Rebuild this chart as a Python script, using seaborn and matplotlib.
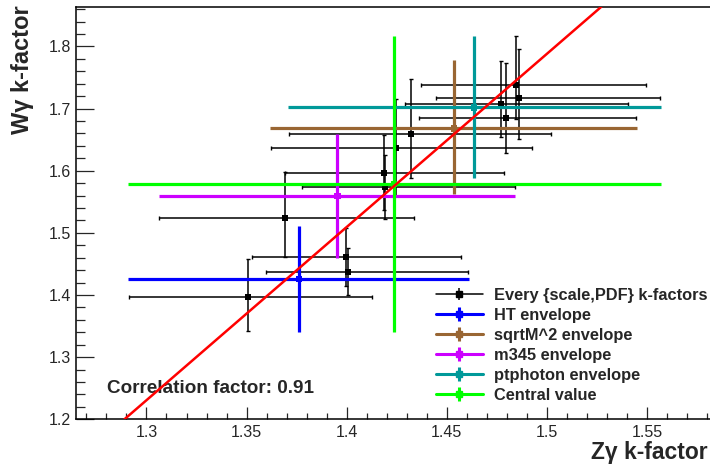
import numpy as np
import pandas as pd
import matplotlib.pyplot as plt
import seaborn as sns
from matplotlib.lines import Line2D
from matplotlib.ticker import MultipleLocator

# Every {scale,PDF} k-factor point: Z-gamma (x) vs W-gamma (y), with envelope edges
kz = [1.4847, 1.4859, 1.4770, 1.4795, 1.4323, 1.4245, 1.3693, 1.4186, 1.4191, 1.3996, 1.4006, 1.3506]
kw = [1.7373, 1.7164, 1.7068, 1.6852, 1.6590, 1.6370, 1.5244, 1.5968, 1.5738, 1.4613, 1.4376, 1.3965]
kz_lo = [1.4371, 1.4448, 1.4291, 1.4363, 1.3713, 1.3624, 1.3065, 1.3693, 1.3778, 1.3528, 1.3598, 1.2913]
kz_hi = [1.5496, 1.5565, 1.5404, 1.5446, 1.5021, 1.4924, 1.4336, 1.4784, 1.4840, 1.4570, 1.4607, 1.4126]
kw_lo = [1.6831, 1.6514, 1.6537, 1.6289, 1.5887, 1.5593, 1.4613, 1.5368, 1.5223, 1.4146, 1.4000, 1.3423]
kw_hi = [1.8166, 1.7952, 1.7768, 1.7727, 1.7479, 1.7148, 1.5974, 1.6569, 1.6252, 1.5079, 1.4757, 1.4576]

# Envelopes
env_names = ["HT envelope", "sqrtM^2 envelope", "m345 envelope", "ptphoton envelope", "Central value"]
env_colors = ["#0000ff", "#996633", "#cc00ff", "#009999", "#00ff00"]
env_z = [1.3761, 1.4537, 1.3953, 1.4637, 1.4236]
env_w = [1.4259, 1.6682, 1.5593, 1.7019, 1.5786]
env_z_lo = [1.2908, 1.3619, 1.3062, 1.3708, 1.2908]
env_z_hi = [1.4612, 1.5449, 1.4842, 1.5568, 1.5571]
env_w_lo = [1.3411, 1.5621, 1.4592, 1.5878, 1.3411]
env_w_hi = [1.5116, 1.7780, 1.6595, 1.8170, 1.8170]

# Linear fit line
fit_slope = 2.787
fit_intercept = -2.3924
corr_factor = 0.91

sns.set_theme(style="ticks")
plt.rcParams['font.family'] = ['Liberation Sans', 'DejaVu Sans']

pts = pd.DataFrame({"kz": kz, "kw": kw, "kz_lo": kz_lo, "kz_hi": kz_hi,
                    "kw_lo": kw_lo, "kw_hi": kw_hi})
env = pd.DataFrame({"name": env_names, "color": env_colors, "kz": env_z, "kw": env_w,
                    "kz_lo": env_z_lo, "kz_hi": env_z_hi, "kw_lo": env_w_lo, "kw_hi": env_w_hi})

fig = plt.figure(figsize=(7.1, 4.68), dpi=100)
ax = fig.add_axes([76 / 710, 1 - 419.3 / 468, 1 - 76 / 710 + 0.002, (419.3 - 6.7) / 468])

# black points
ax.errorbar(pts["kz"], pts["kw"],
            xerr=[pts["kz"] - pts["kz_lo"], pts["kz_hi"] - pts["kz"]],
            yerr=[pts["kw"] - pts["kw_lo"], pts["kw_hi"] - pts["kw"]],
            fmt="none", ecolor="black", elinewidth=1.1, capsize=1.2, capthick=1.0, zorder=2)
sns.scatterplot(data=pts, x="kz", y="kw", marker="s", s=18, color="black",
                edgecolor="none", ax=ax, zorder=3, legend=False)

handles = [(Line2D([], [], color="black", lw=1.1, marker="s", markersize=4.5),
            Line2D([], [], color="black", lw=0, marker="|", markersize=9, markeredgewidth=1.1))]
labels = ["Every {scale,PDF} k-factors"]

for i, row in env.iterrows():
    ax.errorbar([row["kz"]], [row["kw"]],
                xerr=[[row["kz"] - row["kz_lo"]], [row["kz_hi"] - row["kz"]]],
                yerr=[[row["kw"] - row["kw_lo"]], [row["kw_hi"] - row["kw"]]],
                fmt="none", ecolor=row["color"], elinewidth=2.3, capsize=0, zorder=4 + i)
    ax.scatter([row["kz"]], [row["kw"]], marker="s", s=22, color=row["color"],
               edgecolor="none", zorder=4 + i)
    handles.append((Line2D([], [], color=row["color"], lw=2.2, marker="s", markersize=4.5),
                    Line2D([], [], color=row["color"], lw=0, marker="|", markersize=10,
                           markeredgewidth=2.2)))
    labels.append(row["name"])

ax.axline((1.3, fit_intercept + fit_slope * 1.3), slope=fit_slope, color="red", lw=1.8, zorder=12)

ax.set_xlim(1.2648, 1.5822)
ax.set_ylim(1.2, 1.864)
ax.xaxis.set_major_locator(MultipleLocator(0.05))
ax.xaxis.set_minor_locator(MultipleLocator(0.01))
ax.yaxis.set_major_locator(MultipleLocator(0.1))
ax.yaxis.set_minor_locator(MultipleLocator(0.02))
ax.set_xticks([1.3, 1.35, 1.4, 1.45, 1.5, 1.55])
ax.set_xticklabels(["1.3", "1.35", "1.4", "1.45", "1.5", "1.55"])
ax.set_yticks([1.2, 1.3, 1.4, 1.5, 1.6, 1.7, 1.8])
ax.set_yticklabels(["1.2", "1.3", "1.4", "1.5", "1.6", "1.7", "1.8"])
ax.tick_params(axis="x", which="major", direction="in", length=8.6, width=0.9, labelsize=11.5, pad=4)
ax.tick_params(axis="x", which="minor", direction="in", length=4.3, width=0.9)
ax.tick_params(axis="y", which="major", direction="in", length=13, width=0.9, labelsize=11.5, pad=3.6)
ax.tick_params(axis="y", which="minor", direction="in", length=6.5, width=0.9)
for sp in ax.spines.values():
    sp.set_linewidth(1.1)
    sp.set_color("black")
ax.set_xlabel("")
ax.set_ylabel("")

fig.text(708 / 710, 1 - 452 / 468, "Z\u03b3 k-factor", ha="right", va="center",
         fontsize=16.5, fontweight="bold")
fig.text(22 / 710, 1 - 5 / 468, "W\u03b3 k-factor", ha="center", va="top",
         rotation=90, fontsize=17, fontweight="bold")

ax.text(0.049, 0.074, "Correlation factor: %.2f" % corr_factor, transform=ax.transAxes,
        ha="left", va="center", fontsize=13.6, fontweight="bold")

fig.legend(handles, labels, loc="upper left", bbox_to_anchor=(436 / 710, 1 - 288 / 468),
           frameon=False, borderpad=0, borderaxespad=0, handlelength=2.85,
           handletextpad=0.7, labelspacing=0.3,
           prop={"size": 11.8, "weight": "bold"})

plt.savefig("out.png", dpi=100)
